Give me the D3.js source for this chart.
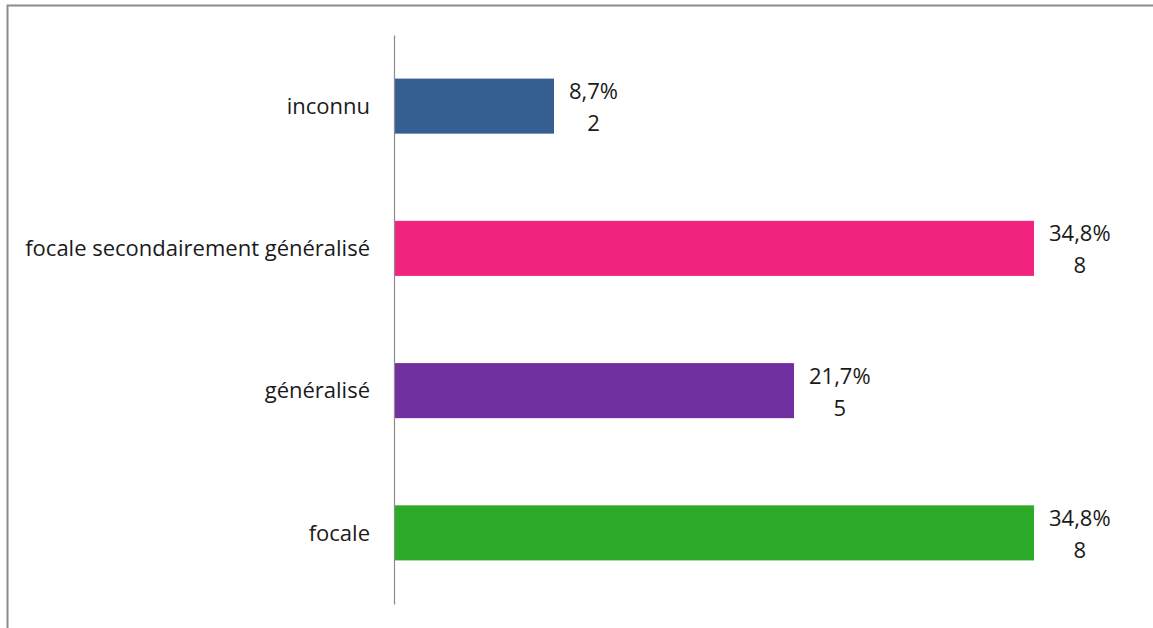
<!DOCTYPE html>
<html><head><meta charset="utf-8">
<script src="https://cdn.jsdelivr.net/npm/d3@7"></script>
<style>body{margin:0;background:#fff;}svg{display:block;}</style>
</head><body>
<script>
const categories = ["inconnu", "focale secondairement généralisé", "généralisé", "focale"];
const counts = [2, 8, 5, 8];
const percents = ["8,7%", "34,8%", "21,7%", "34,8%"];
const colors = ["#365F91", "#F0247F", "#7030A0", "#2CAA28"];

const W = 1153, H = 628;
const svg = d3.select("body").append("svg").attr("width", W).attr("height", H);
svg.append("rect").attr("width", W).attr("height", H).attr("fill", "#fff");
// frame
svg.append("path").attr("d", `M7.5,${H} V5.5 H${W}`).attr("fill", "none").attr("stroke", "#8c8c8c").attr("stroke-width", 2);

const x = d3.scaleLinear().domain([0, 8]).range([394, 1034]);
const y = d3.scaleBand().domain(categories).range([35, 604]).paddingInner(0.613).paddingOuter(0.3065);
const font = "'Open Sans', sans-serif";
const fs = 22;

svg.selectAll("rect.bar").data(categories).join("rect").attr("class", "bar")
  .attr("x", x(0)).attr("y", d => y(d))
  .attr("width", (d, i) => x(counts[i]) - x(0)).attr("height", y.bandwidth())
  .attr("fill", (d, i) => colors[i]);

const axis = d3.axisLeft(y).tickSize(0).tickPadding(24);
const g = svg.append("g").attr("transform", `translate(${x(0)},0)`).call(axis);
g.select(".domain").attr("stroke", "#8c8c8c").attr("stroke-width", 1.2);
g.selectAll("text").attr("font-family", font).attr("font-size", fs).attr("fill", "#1a1a1a").attr("dy", "0.35em");

categories.forEach((c, i) => {
  const cy = y(c) + y.bandwidth() / 2;
  const t1 = svg.append("text").attr("font-family", font).attr("font-size", fs).attr("fill", "#1a1a1a")
    .attr("y", cy - 7).text(percents[i]);
  const w = t1.node().getComputedTextLength();
  const cx = x(counts[i]) + 15 + w / 2;
  t1.attr("x", cx).attr("text-anchor", "middle");
  svg.append("text").attr("font-family", font).attr("font-size", fs).attr("fill", "#1a1a1a")
    .attr("x", cx).attr("y", cy + 25).attr("text-anchor", "middle").text(counts[i]);
});
</script>
</body></html>
